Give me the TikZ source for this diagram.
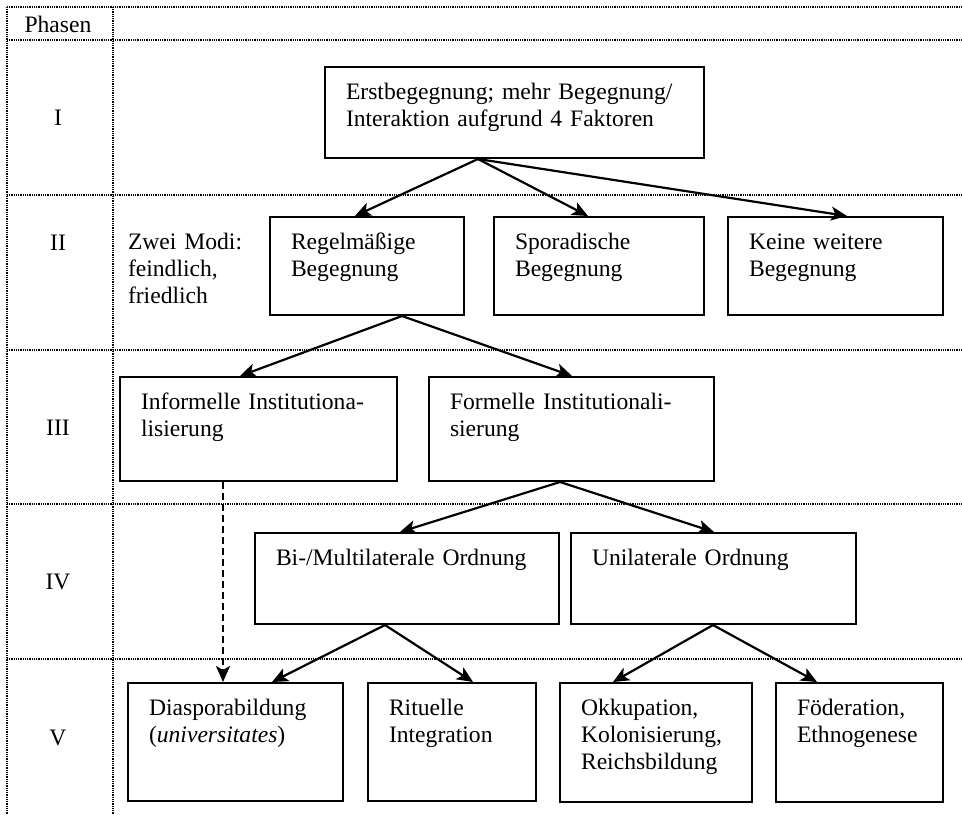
\documentclass[tikz,border=0pt]{standalone}
\usepackage{fontspec}
\setmainfont{Liberation Serif}
\usetikzlibrary{arrows.meta,positioning}

\begin{document}
\begin{tikzpicture}[x=0.5pt,y=-0.5pt,
  font=\fontsize{11.8}{13.5}\selectfont,
  grid/.style={line width=0.7pt,dash pattern=on 0.5pt off 0.4pt},
  box/.style={draw,line width=1pt,anchor=north west,align=left,
              inner xsep=10.5pt,inner ysep=0pt,text height=16pt},
  ph/.style={inner sep=0pt},
  w/.style={-{Stealth[length=8pt,width=7pt,inset=2pt]},line width=1.1pt},
  wd/.style={w,dash pattern=on 3.5pt off 2pt}]
  \useasboundingbox (0,0) rectangle (962,815);
  \foreach \y in {7,40,195,350,504,659}
    \draw[grid] (7,\y) -- (962,\y);
  \draw[grid] (7,7) -- (7,815);
  \draw[grid] (113,7) -- (113,815);
  \node[ph] (phasen) at (58,24) {Phasen};
  \node[ph] (p1) at (58,118) {I};
  \node[ph] (p2) at (58,243) {II};
  \node[ph] (p3) at (58,428) {III};
  \node[ph] (p4) at (58,582) {IV};
  \node[ph] (p5) at (58,738) {V};
  \node[box,text width=168.5pt,text depth=29.5pt] (erst) at (324,66)
    {Erstbegegnung; mehr Begegnung/\\Interaktion aufgrund 4 Faktoren};
  \node[box,draw=none,inner xsep=0pt,text width=65pt,text depth=40pt] (modi) at (127,216)
    {Zwei Modi:\\feindlich,\\friedlich};
  \node[box,text width=76pt,text depth=33pt] (regel) at (269,216) {Regelmäßige\\Begegnung};
  \node[box,text width=84pt,text depth=33pt] (spor) at (493,216) {Sporadische\\Begegnung};
  \node[box,text width=86.5pt,text depth=33pt] (keine) at (727,216) {Keine weitere\\Begegnung};
  \node[box,text width=117.5pt,text depth=36pt] (inf) at (119,376) {Informelle Institutiona-\\lisierung};
  \node[box,text width=121.5pt,text depth=36pt] (form) at (428,376) {Formelle Institutionali-\\sierung};
  \node[box,text width=131pt,text depth=29.5pt] (bim) at (254,532) {Bi-/Multilaterale Ordnung};
  \node[box,text width=121.5pt,text depth=29.5pt] (uni) at (570,532) {Unilaterale Ordnung};
  \node[box,text width=86.5pt,text depth=43pt] (dia) at (127,682) {Diasporabildung\\(\textit{universitates})};
  \node[box,text width=63pt,text depth=43pt] (rit) at (367,682) {Rituelle\\Integration};
  \node[box,text width=75pt,text depth=43.5pt] (okk) at (559,682) {Okkupation,\\Kolonisierung,\\Reichsbildung};
  \node[box,text width=62.5pt,text depth=43.5pt] (fod) at (775,682) {Föderation,\\Ethnogenese};
  \draw[w] ([xshift=77pt]erst.south west) -- ([xshift=43pt]regel.north west);
  \draw[w] ([xshift=77pt]erst.south west) -- ([xshift=47.5pt]spor.north west);
  \draw[w] ([xshift=77pt]erst.south west) -- ([xshift=60pt]keine.north west);
  \draw[w] ([xshift=66.5pt]regel.south west) -- ([xshift=60.5pt]inf.north west);
  \draw[w] ([xshift=66.5pt]regel.south west) -- ([xshift=72pt]form.north west);
  \draw[wd] ([xshift=52pt]inf.south west) -- ([xshift=48pt]dia.north west);
  \draw[w] ([xshift=66pt]form.south west) -- ([xshift=73pt]bim.north west);
  \draw[w] ([xshift=66pt]form.south west) -- ([xshift=72pt]uni.north west);
  \draw[w] ([xshift=65.5pt]bim.south west) -- ([xshift=72.5pt]dia.north west);
  \draw[w] ([xshift=65.5pt]bim.south west) -- ([xshift=53pt]rit.north west);
  \draw[w] ([xshift=71.5pt]uni.south west) -- ([xshift=27pt]okk.north west);
  \draw[w] ([xshift=71.5pt]uni.south west) -- ([xshift=21pt]fod.north west);
\end{tikzpicture}
\end{document}
